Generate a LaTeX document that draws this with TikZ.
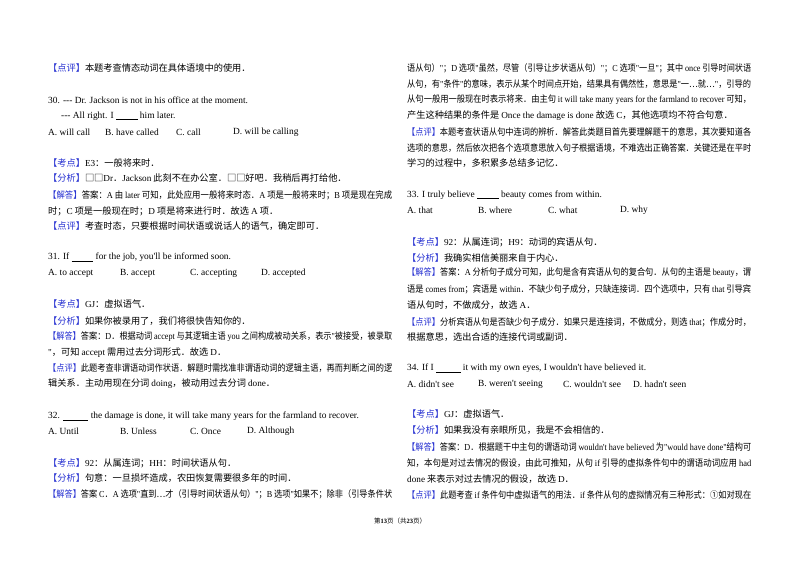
\documentclass[tikz,border=0pt]{standalone}
\usepackage{fontspec}
\setmainfont{Noto Sans CJK SC}
\newfontfamily\enfont{Liberation Serif}
\definecolor{tagblue}{RGB}{40,50,210}
\newcommand\E[1]{{\enfont #1}}
\newcommand\lab[1]{\textcolor{tagblue}{【#1】}}
\newcommand\blank[1]{\underline{\hspace{#1}}}
\newcommand\fl[1]{\resizebox{344pt}{\height}{#1}}
\tikzset{txt/.style={anchor=west,inner sep=0pt,font=\fontsize{9.2}{11}\selectfont},
 en/.style={txt,font=\fontsize{9.4}{11}\selectfont\enfont}}
\begin{document}
\begin{tikzpicture}[x=1pt,y=-1pt]
\fill[white] (0,0) rectangle (800,565);
\useasboundingbox (0,0) rectangle (800,565);
% left column
\node[txt] (l1) at (48,68) {\lab{点评}本题考查情态动词在具体语境中的使用．};
\node[en] (q30) at (48,100) {30. --- Dr. Jackson is not in his office at the moment.};
\node[en] (q30b) at (61,116) {--- All right. I \blank{2.3em} him later.};
\node[en] (o30a) at (48,132) {A. will call};
\node[en] (o30b) at (105,132) {B. have called};
\node[en] (o30c) at (176,132) {C. call};
\node[en] (o30d) at (233,132) {D. will be calling};
\node[txt] (l2) at (48,163) {\lab{考点}\E{E3}：一般将来时．};
\node[txt] (l3) at (48,178) {\lab{分析}□□\E{Dr}．\E{Jackson} 此刻不在办公室．□□好吧．我稍后再打给他．};
\node[txt] (l4) at (48,195) {\fl{\lab{解答}答案：\E{A} 由 \E{later} 可知，此处应用一般将来时态．\E{A} 项是一般将来时；\E{B} 项是现在完成}};
\node[txt] (l5) at (48,211) {时；\E{C} 项是一般现在时；\E{D} 项是将来进行时．故选 \E{A} 项．};
\node[txt] (l6) at (48,226) {\lab{点评}考查时态，只要根据时间状语或说话人的语气，确定即可．};
\node[en] (q31) at (48,257) {31. If \blank{2.3em} for the job, you'll be informed soon.};
\node[en] (o31a) at (48,273) {A. to accept};
\node[en] (o31b) at (120,273) {B. accept};
\node[en] (o31c) at (190,273) {C. accepting};
\node[en] (o31d) at (261,273) {D. accepted};
\node[txt] (l7) at (48,304) {\lab{考点}\E{GJ}：虚拟语气．};
\node[txt] (l8) at (48,321) {\lab{分析}如果你被录用了，我们将很快告知你的．};
\node[txt] (l9) at (48,337) {\fl{\lab{解答}答案：\E{D}．根据动词 \E{accept} 与其逻辑主语 \E{you} 之间构成被动关系，表示\E{"}被接受，被录取}};
\node[txt] (l10) at (48,353) {\E{"}，可知 \E{accept} 需用过去分词形式．故选 \E{D}．};
\node[txt] (l11) at (48,368) {\fl{\lab{点评}此题考查非谓语动词作状语．解题时需找准非谓语动词的逻辑主语，再而判断之间的逻}};
\node[txt] (l12) at (48,384) {辑关系．主动用现在分词 \E{doing}，被动用过去分词 \E{done}．};
\node[en] (q32) at (48,416) {32. \blank{2.7em} the damage is done, it will take many years for the farmland to recover.};
\node[en] (o32a) at (48,431) {A. Until};
\node[en] (o32b) at (120,431) {B. Unless};
\node[en] (o32c) at (190,431) {C. Once};
\node[en] (o32d) at (247,431) {D. Although};
\node[txt] (l13) at (48,463) {\lab{考点}\E{92}：从属连词；\E{HH}：时间状语从句．};
\node[txt] (l14) at (48,478) {\lab{分析}句意：一旦损坏造成，农田恢复需要很多年的时间．};
\node[txt] (l15) at (48,494) {\fl{\lab{解答}答案 \E{C}．\E{A} 选项\E{"}直到…才（引导时间状语从句）\E{"}；\E{B} 选项\E{"}如果不；除非（引导条件状}};
\node[anchor=center,inner sep=0pt,font=\fontsize{6.5}{8}\selectfont] (foot) at (400,521) {第\E{\textbf{13}}页（共\E{\textbf{23}}页）};
% right column
\node[txt] (r1) at (407,68) {\fl{语从句）\E{"}；\E{D} 选项\E{"}虽然，尽管（引导让步状语从句）\E{"}；\E{C} 选项\E{"}一旦\E{"}；其中 \E{once} 引导时间状语}};
\node[txt] (r2) at (407,84) {\fl{从句，有\E{"}条件\E{"}的意味，表示从某个时间点开始，结果具有偶然性，意思是\E{"}一…就…\E{"}，引导的}};
\node[txt] (r3) at (407,100) {\fl{从句一般用一般现在时表示将来．由主句 \E{it will take many years for the farmland to recover} 可知，}};
\node[txt] (r4) at (407,116) {产生这种结果的条件是 \E{Once the damage is done} 故选 \E{C}，其他选项均不符合句意．};
\node[txt] (r5) at (407,132) {\fl{\lab{点评}本题考查状语从句中连词的辨析．解答此类题目首先要理解题干的意思，其次要知道各}};
\node[txt] (r6) at (407,148) {\fl{选项的意思，然后依次把各个选项意思放入句子根据语境，不难选出正确答案．关键还是在平时}};
\node[txt] (r7) at (407,163) {学习的过程中，多积累多总结多记忆．};
\node[en] (q33) at (407,195) {33. I truly believe \blank{2.3em} beauty comes from within.};
\node[en] (o33a) at (407,210) {A. that};
\node[en] (o33b) at (478,210) {B. where};
\node[en] (o33c) at (548,210) {C. what};
\node[en] (o33d) at (620,210) {D. why};
\node[txt] (r8) at (407,242) {\lab{考点}\E{92}：从属连词；\E{H9}：动词的宾语从句．};
\node[txt] (r9) at (407,258) {\lab{分析}我确实相信美丽来自于内心．};
\node[txt] (r10) at (407,273) {\fl{\lab{解答}答案：\E{A} 分析句子成分可知，此句是含有宾语从句的复合句．从句的主语是 \E{beauty}，谓}};
\node[txt] (r11) at (407,289) {\fl{语是 \E{comes from}；宾语是 \E{within}．不缺少句子成分，只缺连接词．四个选项中，只有 \E{that} 引导宾}};
\node[txt] (r12) at (407,305) {语从句时，不做成分，故选 \E{A}．};
\node[txt] (r13) at (407,322) {\fl{\lab{点评}分析宾语从句是否缺少句子成分．如果只是连接词，不做成分，则选 \E{that}；作成分时，}};
\node[txt] (r14) at (407,337) {根据意思，选出合适的连接代词或副词．};
\node[en] (q34) at (407,368) {34. If I \blank{2.6em} it with my own eyes, I wouldn't have believed it.};
\node[en] (o34a) at (407,384) {A. didn't see};
\node[en] (o34b) at (478,384) {B. weren't seeing};
\node[en] (o34c) at (563,384) {C. wouldn't see};
\node[en] (o34d) at (633,384) {D. hadn't seen};
\node[txt] (r15) at (407,414) {\lab{考点}\E{GJ}：虚拟语气．};
\node[txt] (r16) at (407,430) {\lab{分析}如果我没有亲眼所见，我是不会相信的．};
\node[txt] (r17) at (407,447) {\fl{\lab{解答}答案：\E{D}．根据题干中主句的谓语动词 \E{wouldn't have believed} 为\E{"would have done"}结构可}};
\node[txt] (r18) at (407,463) {\fl{知，本句是对过去情况的假设，由此可推知，从句 \E{if} 引导的虚拟条件句中的谓语动词应用 \E{had}}};
\node[txt] (r19) at (407,479) {\E{done} 来表示对过去情况的假设，故选 \E{D}．};
\node[txt] (r20) at (407,495) {\fl{\lab{点评}此题考查 \E{if} 条件句中虚拟语气的用法．\E{if} 条件从句的虚拟情况有三种形式：①如对现在}};
\end{tikzpicture}
\end{document}
